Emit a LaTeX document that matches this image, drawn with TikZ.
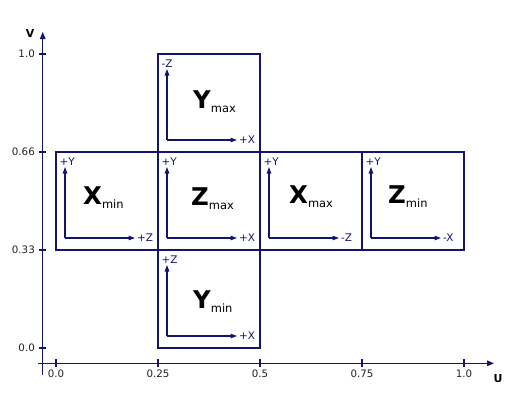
\documentclass[tikz,border=0pt]{standalone}
\usepackage{fontspec}
\setmainfont{DejaVu Sans}
\usetikzlibrary{arrows.meta}
\definecolor{nv}{RGB}{20,20,110}
\definecolor{tk}{RGB}{35,35,35}
\begin{document}
\begin{tikzpicture}[x=1bp,y=-1bp,
  box/.style={draw=nv,line width=2.3bp},
  axis/.style={draw=nv,line width=1.3bp,-{Triangle[length=7bp,width=5.5bp]}},
  inax/.style={draw=nv,line width=1.1bp,-{Triangle[length=6.5bp,width=4.5bp]}},
  lab/.style={font=\fontsize{10.5}{12}\selectfont,text=nv,inner sep=0pt},
  tickmark/.style={draw=nv,line width=1.3bp},
  ticklab/.style={font=\fontsize{10.3}{12}\selectfont,text=tk,inner sep=0pt},
  axlab/.style={font=\fontsize{11}{12}\selectfont\bfseries,text=black,inner sep=0pt},
  big/.style={anchor=base west,inner sep=0pt,text=black}
]
\useasboundingbox (0,0) rectangle (517,412);
\fill[white] (0,0) rectangle (517,412);

% axes
\coordinate (ya0) at (42.7,375);
\coordinate (ya1) at (42.7,32);
\coordinate (xa0) at (38,363.3);
\coordinate (xa1) at (494,363.3);
\draw[axis] (ya0) -- (ya1);
\draw[axis] (xa0) -- (xa1);
\node[axlab] (vlab) at (30,33) {V};
\node[axlab] (ulab) at (498,379) {U};

\foreach \v/\y [count=\i] in {1.0/54,0.66/152,0.33/250,0.0/348}{
  \draw[tickmark] (39,\y) -- (46,\y);
  \node[ticklab,anchor=east] (vt\i) at (35,\y) {\v};
}
\foreach \u/\x [count=\i] in {0.0/56,0.25/158,0.5/260,0.75/362,1.0/464}{
  \draw[tickmark] (\x,359) -- (\x,367);
  \node[ticklab] (ut\i) at (\x,374) {\u};
}

% faces
\foreach \n/\L/\T/\va/\ha/\B/\S/\dx/\bl in {
  ymax/158/54/-Z/+X/Y/max/35/54,
  xmin/56/152/+Y/+Z/X/min/27/52,
  zmax/158/152/+Y/+X/Z/max/33/53,
  xmax/260/152/+Y/-Z/X/max/29/51,
  zmin/362/152/+Y/-X/Z/min/26/51,
  ymin/158/250/+Z/+X/Y/min/35/58}{
  \draw[box] (\L,\T) rectangle (\L+102,\T+98);
  \coordinate (o\n) at (\L+9,\T+86);
  \coordinate (v\n) at (\L+9,\T+15);
  \coordinate (h\n) at (\L+79,\T+86);
  \draw[inax] (o\n) -- (v\n);
  \draw[inax] (o\n) -- (h\n);
  \node[lab,anchor=base west] (vl\n) at (\L+3.5,\T+13) {\va};
  \node[lab,anchor=west] (hl\n) at (\L+81,\T+86) {\ha};
  \node[big] (f\n) at (\L+\dx,\T+\bl)
    {{\fontsize{24.5}{24}\selectfont\bfseries \B}\raisebox{-4.5bp}{\fontsize{11.5}{12}\selectfont \S}};
}
\end{tikzpicture}
\end{document}
